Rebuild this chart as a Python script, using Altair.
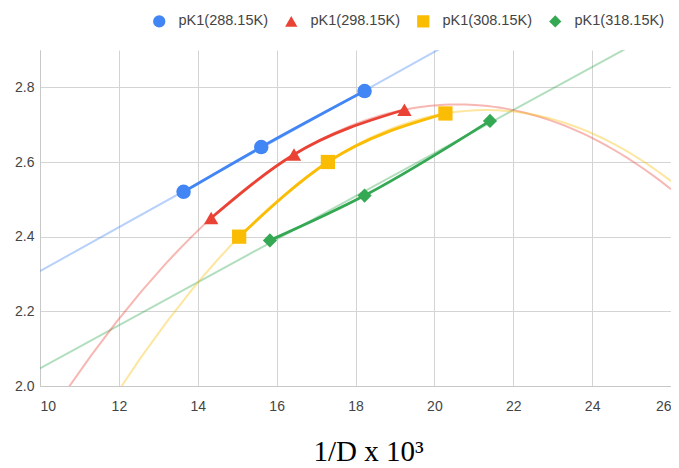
import altair as alt
import pandas as pd

# ---- data ----
series_names = ["pK1(288.15K)", "pK1(298.15K)", "pK1(308.15K)", "pK1(318.15K)"]
x_288 = [13.64, 15.61, 18.23]
y_288 = [2.52, 2.64, 2.79]
x_298 = [14.34, 16.44, 19.24]
y_298 = [2.45, 2.62, 2.74]
x_308 = [15.05, 17.30, 20.28]
y_308 = [2.40, 2.60, 2.73]
x_318 = [15.83, 18.23, 21.41]
y_318 = [2.39, 2.51, 2.71]

x_ticks = [10, 12, 14, 16, 18, 20, 22, 24, 26]
y_ticks = [2.0, 2.2, 2.4, 2.6, 2.8]

colors = ["#4285F4", "#EA4335", "#FBBC04", "#34A853"]
shapes = ["circle", "triangle-up", "square", "diamond"]
marker_sizes = [210, 200, 140, 180]

rows = []
for name, xs, ys in zip(series_names, [x_288, x_298, x_308, x_318],
                        [y_288, y_298, y_308, y_318]):
    for xv, yv in zip(xs, ys):
        rows.append({"series": name, "x": xv, "y": yv})
df = pd.DataFrame(rows)

xscale = alt.Scale(domain=[10, 26], nice=False, zero=False)
yscale = alt.Scale(domain=[2.0, 2.9], nice=False, zero=False)

x_enc = alt.X("x:Q", scale=xscale,
              axis=alt.Axis(values=x_ticks, format="d", title="1/D x 10³",
                            titleFont="Liberation Serif", titleFontSize=29,
                            titleFontWeight="normal", titleColor="#000000",
                            titleX=328, titleY=74, titleAlign="center",
                            titleBaseline="alphabetic",
                            labelPadding=13, labelFontSize=14))
y_enc = alt.Y("y:Q", scale=yscale,
              axis=alt.Axis(values=y_ticks, format=".1f", title=None,
                            labelPadding=6, labelFontSize=14))

# a separate field name so that the line layers never touch the points' legend
stroke_enc = alt.Stroke("ser_line:N",
                        scale=alt.Scale(domain=series_names, range=colors),
                        legend=None)

base = alt.Chart(df)

trend_linear = base.transform_filter(
    alt.FieldOneOfPredicate(field="series", oneOf=[series_names[0], series_names[3]])
).transform_regression(
    "x", "y", groupby=["series"], method="linear", extent=[10, 26]
).transform_calculate(ser_line="datum.series").mark_line(
    clip=True, strokeWidth=2, opacity=0.38
).encode(x=x_enc, y=y_enc, stroke=stroke_enc)

trend_poly = base.transform_filter(
    alt.FieldOneOfPredicate(field="series", oneOf=[series_names[1], series_names[2]])
).transform_regression(
    "x", "y", groupby=["series"], method="poly", order=2, extent=[10, 26]
).transform_calculate(ser_line="datum.series").mark_line(
    clip=True, strokeWidth=2, opacity=0.38
).encode(x=x_enc, y=y_enc, stroke=stroke_enc)

data_lines = base.transform_calculate(ser_line="datum.series").mark_line(
    interpolate="monotone", strokeWidth=2.8
).encode(x=x_enc, y=y_enc, stroke=stroke_enc)

legend = alt.Legend(orient="none", legendX=112, legendY=-36,
                    direction="horizontal", title=None,
                    labelFont="Liberation Sans", labelFontSize=14.5,
                    labelColor="#444444", symbolSize=150,
                    symbolStrokeWidth=0, columnPadding=16, labelOffset=12)

points = base.transform_calculate(sz="datum.series").mark_point(
    filled=True, opacity=1
).encode(
    x=x_enc, y=y_enc,
    color=alt.Color("series:N", scale=alt.Scale(domain=series_names, range=colors),
                    legend=legend),
    shape=alt.Shape("series:N", scale=alt.Scale(domain=series_names, range=shapes),
                    legend=legend),
    size=alt.Size("sz:N", scale=alt.Scale(domain=series_names, range=marker_sizes),
                  legend=None),
)

chart = alt.layer(trend_linear, trend_poly, data_lines, points).resolve_scale(
    stroke="independent", size="independent"
).properties(
    width=631, height=336,
    autosize=alt.AutoSizeParams(type="none"),
    padding={"left": 32, "top": 42, "right": 0, "bottom": 84},
).configure_view(stroke=None).configure_axis(
    gridColor="#d4d4d4", gridWidth=1, domainColor="#c8c8c8", domainWidth=1,
    ticks=False, labelColor="#444444", labelFont="Liberation Sans",
)

chart.save("out.html", embed_options={"renderer": "svg", "actions": False})
